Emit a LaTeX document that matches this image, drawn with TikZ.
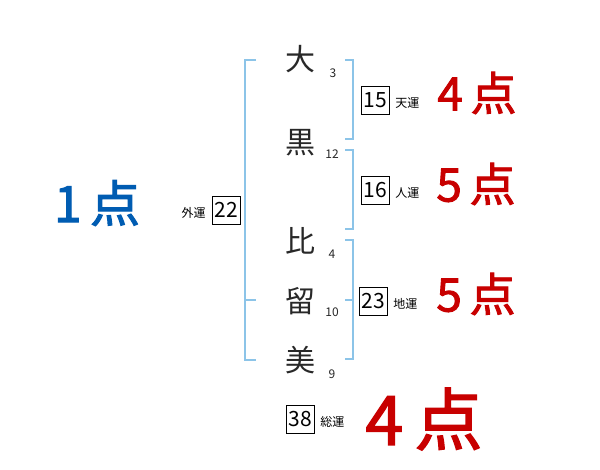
\documentclass[tikz,border=0pt]{standalone}
\usepackage{fontspec}
\setmainfont{Noto Sans CJK JP}
\newfontfamily\pointfont[FakeBold=2]{Noto Sans CJK JP}
\usetikzlibrary{positioning}
\definecolor{BracketBlue}{RGB}{140,196,232}
\definecolor{PointRed}{RGB}{200,0,0}
\definecolor{PointBlue}{RGB}{0,92,178}
\definecolor{InkGray}{RGB}{40,40,40}

\begin{document}
\begin{tikzpicture}[
    x=1pt,
    y=-1pt,
    kanji/.style={
        text=InkGray,
        font=\fontsize{30}{30}\selectfont,
        inner sep=0pt
    },
    strokes/.style={
        text=InkGray,
        font=\fontsize{12}{12}\selectfont,
        inner sep=0pt
    },
    numbox/.style={
        draw,
        thin,
        minimum width=28pt,
        minimum height=28pt,
        inner sep=0pt,
        font=\fontsize{21}{21}\selectfont
    },
    unsei/.style={
        font=\fontsize{12}{12}\selectfont,
        inner sep=0pt
    },
    point/.style={
        text=PointRed,
        font=\pointfont\fontsize{46}{46}\selectfont,
        inner sep=0pt
    },
    bracket/.style={
        draw=BracketBlue,
        line width=1.5pt
    }
]

\useasboundingbox[fill=white] (0,0) rectangle (600,470);

% name
\node[kanji] (k1) at (300,59) {大};
\node[kanji] (k2) at (300,143) {黒};
\node[kanji] (k3) at (300,241) {比};
\node[kanji] (k4) at (300,301) {留};
\node[kanji] (k5) at (300,360) {美};

\node[strokes] (s1) at (333,73) {3};
\node[strokes] (s2) at (332,154) {12};
\node[strokes] (s3) at (332,254) {4};
\node[strokes] (s4) at (332,312) {10};
\node[strokes] (s5) at (332,374) {9};

% brackets
\draw[bracket] (256,60) -- (245,60) -- (245,360) -- (256,360);
\draw[bracket] (245,300) -- (256,300);
\draw[bracket] (345,60) -- (353,60) -- (353,139) -- (345,139);
\draw[bracket] (345,150) -- (353,150) -- (353,229) -- (345,229);
\draw[bracket] (345,240) -- (353,240) -- (353,359) -- (345,359);
\draw[bracket] (345,300) -- (353,300);

% kakusu
\node[numbox] (gai) at (226,210) {22};
\node[unsei, left=6pt of gai.south west, anchor=south east, yshift=6pt] (gaiL) {外運};
\node[numbox] (ten) at (375,100) {15};
\node[unsei, right=6pt of ten.south east, anchor=south west, yshift=6pt] (tenL) {天運};
\node[numbox] (jin) at (375,190) {16};
\node[unsei, right=6pt of jin.south east, anchor=south west, yshift=6pt] (jinL) {人運};
\node[numbox] (chi) at (373,301) {23};
\node[unsei, right=6pt of chi.south east, anchor=south west, yshift=6pt] (chiL) {地運};
\node[numbox] (sou) at (300,419) {38};
\node[unsei, right=6pt of sou.south east, anchor=south west, yshift=6pt] (souL) {総運};

% points
\node[point] (pTen) at (477,93) {4\,点};
\node[point] (pJin) at (476,184) {5\,点};
\node[point] (pChi) at (476,294) {5\,点};
\node[point, font=\pointfont\fontsize{68}{68}\selectfont] (pSou) at (424,419) {4\,点};
\node[point, text=PointBlue, font=\pointfont\fontsize{50}{50}\selectfont] (pGai) at (97,203) {1\,点};

\end{tikzpicture}
\end{document}
